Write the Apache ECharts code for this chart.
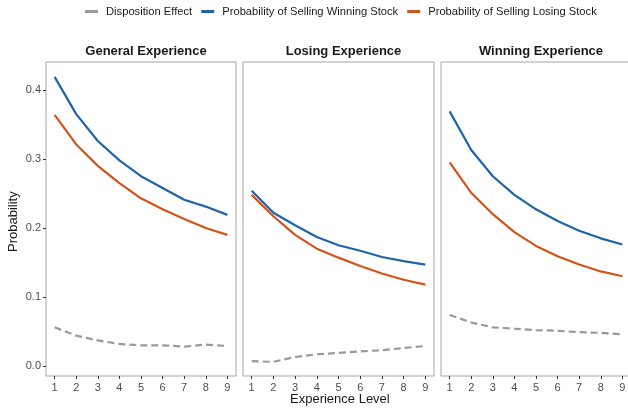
<!DOCTYPE html>
<html><head><meta charset="utf-8">
<script src="https://cdn.jsdelivr.net/npm/echarts@6/dist/echarts.min.js"></script>
<style>html,body{margin:0;padding:0;background:#fff;overflow:hidden;width:628px;height:408px}#c{width:634px;height:408px}</style>
</head><body><div id="c"></div>
<script>
const experience = [1,2,3,4,5,6,7,8,9];
const panels = ["General Experience","Losing Experience","Winning Experience"];
const seriesNames = ["Disposition Effect","Probability of Selling Winning Stock","Probability of Selling Losing Stock"];
const yTicks = [0.0,0.1,0.2,0.3,0.4];
// General Experience
const genDisp = [0.056,0.044,0.037,0.032,0.030,0.030,0.028,0.031,0.029];
const genWin  = [0.419,0.365,0.326,0.298,0.275,0.258,0.241,0.231,0.219];
const genLose = [0.364,0.321,0.290,0.265,0.243,0.227,0.213,0.200,0.190];
// Losing Experience
const losDisp = [0.007,0.006,0.013,0.017,0.019,0.021,0.023,0.026,0.029];
const losWin  = [0.254,0.222,0.204,0.187,0.175,0.167,0.158,0.152,0.147];
const losLose = [0.248,0.217,0.190,0.170,0.157,0.145,0.134,0.125,0.118];
// Winning Experience
const winDisp = [0.074,0.063,0.056,0.054,0.052,0.051,0.049,0.048,0.046];
const winWin  = [0.369,0.313,0.275,0.248,0.227,0.210,0.196,0.185,0.176];
const winLose = [0.295,0.251,0.220,0.194,0.174,0.159,0.147,0.137,0.130];

const dataSets = [[genDisp,genWin,genLose],[losDisp,losWin,losLose],[winDisp,winWin,winLose]];
const colors = ["#999999","#1f64a8","#d3541a"];
const font = "Liberation Sans, Arial, sans-serif";

const grids = [
  {left:46, top:62, width:190, height:314},
  {left:243, top:62, width:191, height:314},
  {left:441, top:62, width:190, height:314}
].map(g=>Object.assign(g,{show:true,borderColor:"#a6a6a6",borderWidth:1,backgroundColor:"#fff",containLabel:false}));

const xAxes = grids.map((g,i)=>({
  type:"value", gridIndex:i, min:0.6, max:9.4, position:"bottom",
  axisLine:{show:false, onZero:false}, splitLine:{show:false},
  axisTick:{show:true, inside:false, customValues:experience, length:3, lineStyle:{color:"#333"}},
  axisLabel:{show:true, customValues:experience, color:"#4d4d4d", fontSize:11, fontFamily:font, margin:6,
    formatter:v=>String(v)}
}));
const yAxes = grids.map((g,i)=>({
  type:"value", gridIndex:i, min:-0.0145, max:0.4405, position:"left",
  axisLine:{show:false, onZero:false}, splitLine:{show:false},
  axisTick:{show:i===0, inside:false, customValues:yTicks, length:3, lineStyle:{color:"#333"}},
  axisLabel:{show:i===0, customValues:yTicks, color:"#4d4d4d", fontSize:11, fontFamily:font, margin:5,
    formatter:v=>v.toFixed(1)}
}));

const series = [];
dataSets.forEach((set,p)=>{
  set.forEach((vals,k)=>{
    series.push({
      name:seriesNames[k], type:"line", xAxisIndex:p, yAxisIndex:p,
      data:experience.map((x,j)=>[x,vals[j]]),
      showSymbol:false, symbol:"none", silent:true, animation:false,
      lineStyle:{color:colors[k], width:2.2, type:k===0?[7,4]:"solid"},
      itemStyle:{color:colors[k]}, z:k===0?2:3
    });
  });
});

const centers = [46+95, 243+95.5, 441+95];
const titles = panels.map((t,i)=>({
  text:t, left:centers[i], top:40, textAlign:"center",
  textStyle:{fontSize:13, fontWeight:"bold", color:"#1a1a1a", fontFamily:font}
}));

const chart = echarts.init(document.getElementById("c"), null, {renderer:"canvas"});
chart.setOption({
  animation:false,
  title:titles,
  legend:{
    left:85, top:6, padding:0, itemWidth:13, itemHeight:3, itemGap:9, icon:"rect",
    data:seriesNames.map((n,k)=>({name:n, itemStyle:{color:colors[k]}})),
    textStyle:{fontSize:11.2, color:"#1a1a1a", fontFamily:font, padding:[0,0,0,3]}
  },
  grid:grids, xAxis:xAxes, yAxis:yAxes, series:series,
  graphic:[
    {type:"text", left:290, top:393, style:{text:"Experience Level", fontSize:13, fill:"#1a1a1a", fontFamily:font}},
    {type:"text", rotation:Math.PI/2, x:7, y:252, style:{text:"Probability", fontSize:13, fill:"#1a1a1a", fontFamily:font}}
  ]
});
</script></body></html>
